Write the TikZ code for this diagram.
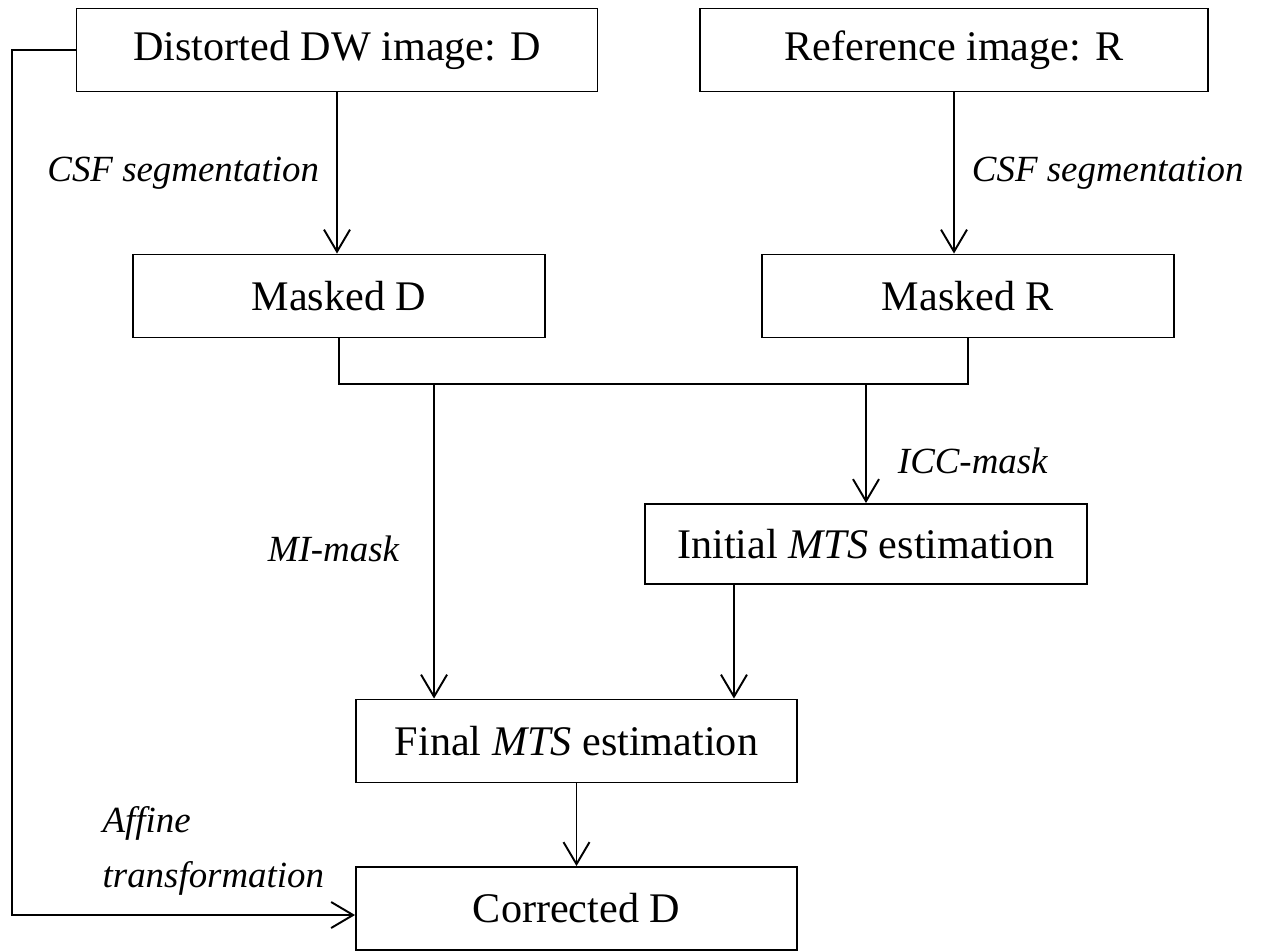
\documentclass[tikz,border=0pt]{standalone}
\usepackage{fontspec}
\setmainfont{Liberation Serif}
\usetikzlibrary{arrows.meta}
\tikzstyle{imgbox} = [rectangle,
minimum height=1.66cm,
text centered,
draw=black,
line width=1.1pt,
font=\fontsize{24}{28}\selectfont]
\tikzstyle{lbl} = [inner sep=0pt,
font=\fontsize{21}{31}\selectfont\itshape]
\tikzstyle{line} = [line width=1.1pt]
\tikzstyle{arrow} = [line width=1.1pt,-{Straight Barb[length=4.4mm,width=5.2mm]}]

\begin{document}
\begin{tikzpicture}[node distance=4.92cm]
\useasboundingbox (0,0) rectangle (25.32,-19.02);

\node (dist) [imgbox, minimum width=10.42cm] at (6.74,-1.0) {Distorted DW image: D};
\node (ref) [imgbox, minimum width=10.16cm, right of=dist, node distance=12.34cm] {Reference image: R};
\node (maskD) [imgbox, minimum width=8.24cm, below of=dist, xshift=0.04cm] {Masked D};
\node (maskR) [imgbox, minimum width=8.24cm, below of=ref, xshift=0.28cm] {Masked R};
\node (init) [imgbox, minimum width=8.84cm, minimum height=1.6cm] at (17.32,-10.88) {Initial \textit{MTS} estimation};
\node (final) [imgbox, minimum width=8.82cm] at (11.53,-14.82) {Final \textit{MTS} estimation};
\node (corr) [imgbox, minimum width=8.82cm, below of=final, node distance=3.35cm] {Corrected D};

\coordinate (join) at (0,-7.68);
\coordinate (loop) at (0.24,0);
\coordinate (miTop) at ([xshift=1.58cm]final.north west);
\coordinate (mtsTop) at ([xshift=-1.28cm]final.north east);
\coordinate (corrIn) at ([yshift=-0.13cm]corr.west);

\draw [arrow] (dist.south) -- node[lbl, left=0.34cm] {CSF segmentation} (dist.south |- maskD.north);
\draw [arrow] (ref.south) -- node[lbl, right=0.34cm] {CSF segmentation} (ref.south |- maskR.north);
\draw [line] (maskD.south) -- (maskD.south |- join) -- (maskR.south |- join) -- (maskR.south);
\draw [arrow] (miTop |- join) -- node[lbl, left=0.68cm, yshift=-0.16cm] {MI-mask} (miTop);
\draw [arrow] (init.north |- join) -- node[lbl, pos=0.65, right=0.62cm] {ICC-mask} (init.north);
\draw [arrow] (init.south -| mtsTop) -- (mtsTop);
\draw [arrow] (final) -- (corr);
\draw [arrow] (dist.west) -- (dist.west -| loop) -- (loop |- corrIn)
  -- node[lbl, pos=0.587, above=0.38cm, align=left] {Affine\\transformation} (corrIn);

\end{tikzpicture}
\end{document}
